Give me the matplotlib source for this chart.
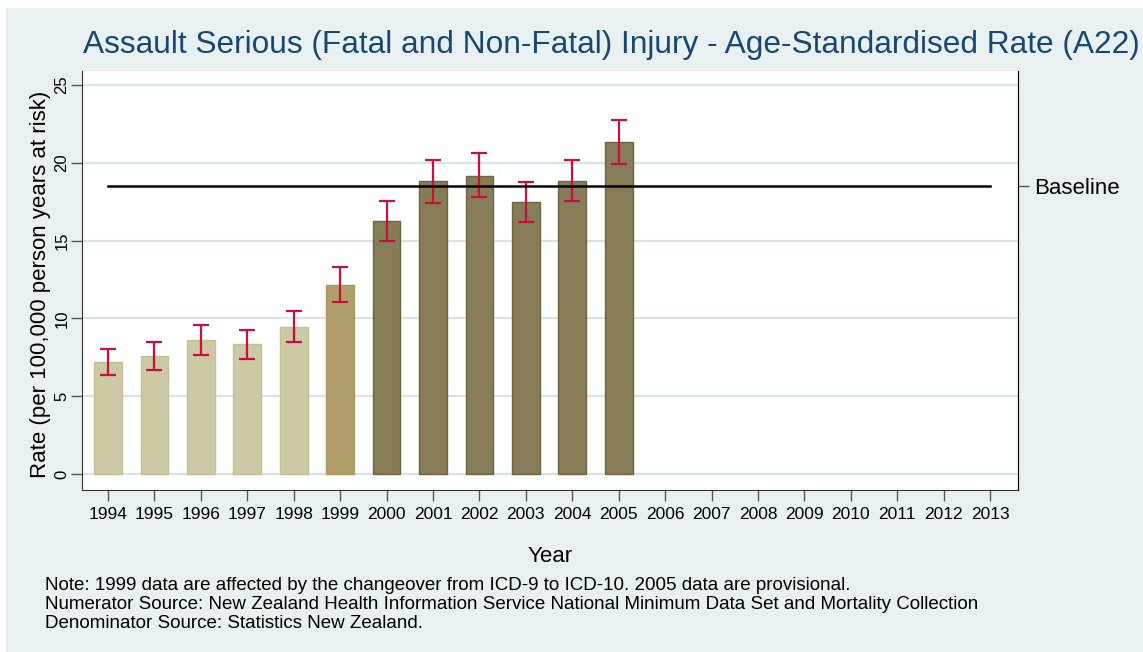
import matplotlib
matplotlib.use('Agg')
import matplotlib.pyplot as plt
from matplotlib.patches import Rectangle

plt.rcParams['font.family'] = ['Liberation Sans', 'DejaVu Sans']

# data
years = [1994, 1995, 1996, 1997, 1998, 1999, 2000, 2001, 2002, 2003, 2004, 2005]
rates = [7.17, 7.56, 8.63, 8.35, 9.47, 12.17, 16.23, 18.83, 19.17, 17.48, 18.85, 21.34]
ci_low = [6.34, 6.68, 7.67, 7.41, 8.48, 11.05, 14.97, 17.44, 17.82, 16.17, 17.52, 19.92]
ci_high = [8.05, 8.46, 9.57, 9.27, 10.45, 13.30, 17.52, 20.20, 20.60, 18.78, 20.20, 22.77]
tick_years = list(range(1994, 2014))
baseline = 18.5
yticks = [0, 5, 10, 15, 20, 25]

bar_colors = ['#cdc9a5'] * 5 + ['#b09f69'] + ['#877c58'] * 6
edge_colors = ['#c4bf95'] * 5 + ['#a8965f'] + ['#6f6440'] * 6

bg = '#e8f0f2'
fig = plt.figure(figsize=(11.43, 6.52), dpi=100, facecolor='white')
fig.patches.append(Rectangle((6 / 1143, 0), 1, (652 - 8) / 652, transform=fig.transFigure,
                             facecolor=bg, edgecolor='none', zorder=-10))

ax = fig.add_axes([82 / 1143, (652 - 490) / 652, (1018 - 82) / 1143, (490 - 71) / 652])
ax.set_facecolor('white')

for y in yticks:
    ax.axhline(y, color='#d6e3ea', lw=1.6, zorder=1)

ax.bar(years, rates, width=0.6, color=bar_colors, edgecolor=edge_colors, linewidth=1, zorder=2)
err_lo = [r - l for r, l in zip(rates, ci_low)]
err_hi = [h - r for r, h in zip(rates, ci_high)]
ax.errorbar(years, rates, yerr=[err_lo, err_hi], fmt='none', ecolor='#c8103e',
            elinewidth=1.6, capsize=5.5, capthick=1.6, zorder=3)

ax.plot([tick_years[0], tick_years[-1]], [baseline, baseline], color='black', lw=1.8, zorder=4)

ax.set_xlim(1993.44, 2013.6)
ax.set_ylim(-1.03, 25.9)
ax.set_xticks(tick_years)
ax.set_xticklabels([str(y) for y in tick_years], fontsize=12.5)
ax.set_yticks(yticks)
ax.set_yticklabels([str(y) for y in yticks], fontsize=12, rotation=90, va='center')
ax.tick_params(axis='x', direction='out', length=8, width=1, color='#555555', pad=4)
ax.tick_params(axis='y', direction='out', length=8, width=1, color='#555555', pad=1)

for s in ['left', 'bottom']:
    ax.spines[s].set_color('#333333')
ax.spines['top'].set_visible(False)
ax.spines['right'].set_color('black')

ax.set_xlabel('Year', fontsize=16, va='center')
ax.xaxis.set_label_coords(0.5, (490 - 556) / 419)
ax.set_ylabel('Rate (per 100,000 person years at risk)', fontsize=16, va='center')
ax.yaxis.set_label_coords((41 - 82) / 936, 0.49)

ax2 = ax.twinx()
ax2.set_ylim(ax.get_ylim())
ax2.set_yticks([baseline])
ax2.set_yticklabels(['Baseline'], fontsize=16)
ax2.tick_params(axis='y', direction='out', length=8, width=1, color='#555555', pad=3.5)
for s in ['top', 'left', 'bottom']:
    ax2.spines[s].set_visible(False)
ax2.spines['right'].set_color('black')

fig.text(611 / 1143, 1 - 45 / 652,
         'Assault Serious (Fatal and Non-Fatal) Injury - Age-Standardised Rate (A22)',
         ha='center', va='center', fontsize=22.8, color='#1a476f')

notes = ['Note: 1999 data are affected by the changeover from ICD-9 to ICD-10. 2005 data are provisional.',
         'Numerator Source: New Zealand Health Information Service National Minimum Data Set and Mortality Collection',
         'Denominator Source: Statistics New Zealand.']
for i, line in enumerate(notes):
    fig.text(45 / 1143, 1 - (586 + 18.5 * i) / 652, line, ha='left', va='center', fontsize=13.5)

fig.savefig('out.png', dpi=100, facecolor=fig.get_facecolor())
